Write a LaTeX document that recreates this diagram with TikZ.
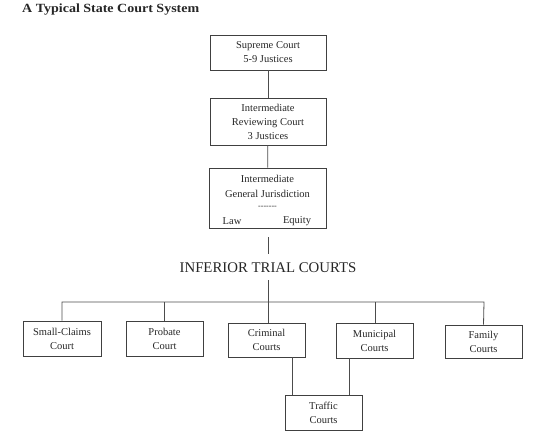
\documentclass[tikz,border=0pt]{standalone}
\usepackage{fontspec}
\setmainfont{Liberation Serif}
\begin{document}
\begin{tikzpicture}[x=1pt,y=-1pt,
  court/.style={draw=black!75, line width=0.8pt, align=center, inner sep=0pt,
    font=\fontsize{10.5}{14}\selectfont, text=black!85},
  conn/.style={draw=black!70, line width=0.8pt},
  lbl/.style={inner sep=0pt, font=\fontsize{10.5}{14}\selectfont, text=black!85}]
\useasboundingbox (0,0) rectangle (553,439);
\node[anchor=west, inner sep=0pt, font=\bfseries\fontsize{12.5}{14}\selectfont, text=black!85] (title) at (22,10) {\scalebox{1.12}[1]{A Typical State Court System}};
\node[court, minimum width=116pt, minimum height=35pt] (sup) at (268,52.5) {Supreme Court\\5-9 Justices};
\node[court, minimum width=116pt, minimum height=47pt] (rev) at (268,121.5) {Intermediate\\Reviewing Court\\3 Justices};
\node[court, minimum width=117pt, minimum height=60pt] (gen) at (267.5,198) {};
\node[lbl] (g1) at (267.5,179) {Intermediate};
\node[lbl] (g2) at (267.5,194) {General Jurisdiction};
\node[lbl, font=\fontsize{8}{10}\selectfont] (g3) at (267.5,207) {-{}-{}-{}-{}-{}-{}-};
\node[lbl] (law) at (232,221) {Law};
\node[lbl] (eq) at (297,221) {Equity};
\node[inner sep=0pt, font=\fontsize{14.8}{16}\selectfont, text=black!85] (inf) at (268,268) {INFERIOR TRIAL COURTS};
\coordinate (a1) at (268,237);
\coordinate (a2) at (268,254);
\coordinate (b1) at (268,280);
\coordinate (hl) at (62,302);
\coordinate (hr) at (484,302);
\coordinate (hm) at (268,302);
\node[court, minimum width=78pt, minimum height=35pt] (small) at (62,338.5) {Small-Claims\\Court};
\node[court, minimum width=77pt, minimum height=35pt] (prob) at (164.5,338.5) {Probate\\Court};
\node[court, minimum width=77pt, minimum height=34pt] (crim) at (266.5,340) {Criminal\\Courts};
\node[court, minimum width=77pt, minimum height=35pt] (muni) at (374.5,340.5) {Municipal\\Courts};
\node[court, minimum width=77pt, minimum height=33pt] (fam) at (483.5,341.5) {Family\\Courts};
\node[court, minimum width=77pt, minimum height=35pt] (traf) at (323.5,412.5) {Traffic\\Courts};
\coordinate (t1) at (292,0);
\coordinate (t2) at (349,0);
\coordinate (mx) at (375,302);
\draw[conn] (sup) -- (rev);
\draw[conn] (rev) -- (gen);
\draw[conn] (a1) -- (a2);
\draw[conn] (b1) -- (hm);
\draw[conn] (small.north) |- (hl) -- (hr) -- (fam.north);
\draw[conn] (prob.north) -- (prob.north |- hm);
\draw[conn] (crim.north -| hm) -- (hm);
\draw[conn] (muni.north -| mx) -- (mx);
\draw[conn] (crim.south -| t1) -- (traf.north -| t1);
\draw[conn] (muni.south -| t2) -- (traf.north -| t2);
\end{tikzpicture}
\end{document}
